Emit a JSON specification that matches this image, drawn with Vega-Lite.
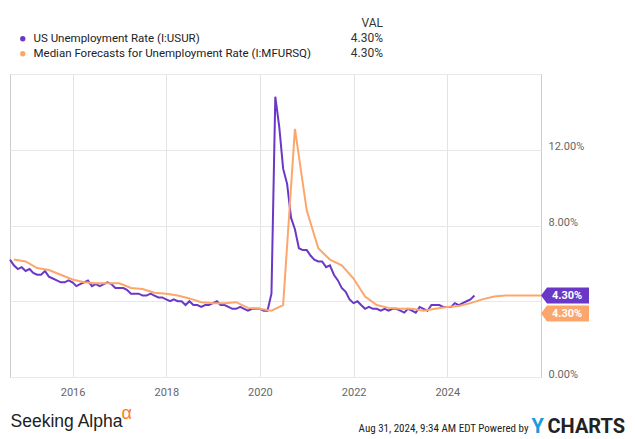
{
  "$schema": "https://vega.github.io/schema/vega-lite/v6.json",
  "width": 531,
  "height": 303,
  "autosize": {"type": "none"},
  "padding": {"left": 10, "top": 74, "right": 94, "bottom": 62},
  "background": "white",
  "config": {
    "font": "Roboto",
    "view": {"stroke": "#cccccc", "strokeWidth": 1}
  },
  "title": {
    "text": ["VAL", "4.30%", "4.30%"],
    "anchor": "start",
    "align": "right",
    "dx": 377,
    "dy": 27,
    "fontSize": 12,
    "fontWeight": "normal",
    "color": "#333333",
    "lineHeight": 15,
    "baseline": "top",
    "offset": 0
  },
  "datasets": {
    "usur": [
      {"date": "2014-08-31", "value": 6.2},
      {"date": "2014-09-30", "value": 5.9},
      {"date": "2014-10-31", "value": 5.7},
      {"date": "2014-11-30", "value": 5.8},
      {"date": "2014-12-31", "value": 5.6},
      {"date": "2015-01-31", "value": 5.7},
      {"date": "2015-02-28", "value": 5.5},
      {"date": "2015-03-31", "value": 5.4},
      {"date": "2015-04-30", "value": 5.4},
      {"date": "2015-05-31", "value": 5.6},
      {"date": "2015-06-30", "value": 5.3},
      {"date": "2015-07-31", "value": 5.2},
      {"date": "2015-08-31", "value": 5.1},
      {"date": "2015-09-30", "value": 5.0},
      {"date": "2015-10-31", "value": 5.0},
      {"date": "2015-11-30", "value": 5.1},
      {"date": "2015-12-31", "value": 5.0},
      {"date": "2016-01-31", "value": 4.8},
      {"date": "2016-02-29", "value": 4.9},
      {"date": "2016-03-31", "value": 5.0},
      {"date": "2016-04-30", "value": 5.1},
      {"date": "2016-05-31", "value": 4.8},
      {"date": "2016-06-30", "value": 4.9},
      {"date": "2016-07-31", "value": 4.8},
      {"date": "2016-08-31", "value": 4.9},
      {"date": "2016-09-30", "value": 5.0},
      {"date": "2016-10-31", "value": 4.9},
      {"date": "2016-11-30", "value": 4.7},
      {"date": "2016-12-31", "value": 4.7},
      {"date": "2017-01-31", "value": 4.7},
      {"date": "2017-02-28", "value": 4.6},
      {"date": "2017-03-31", "value": 4.4},
      {"date": "2017-04-30", "value": 4.4},
      {"date": "2017-05-31", "value": 4.4},
      {"date": "2017-06-30", "value": 4.3},
      {"date": "2017-07-31", "value": 4.3},
      {"date": "2017-08-31", "value": 4.4},
      {"date": "2017-09-30", "value": 4.3},
      {"date": "2017-10-31", "value": 4.2},
      {"date": "2017-11-30", "value": 4.2},
      {"date": "2017-12-31", "value": 4.1},
      {"date": "2018-01-31", "value": 4.0},
      {"date": "2018-02-28", "value": 4.1},
      {"date": "2018-03-31", "value": 4.0},
      {"date": "2018-04-30", "value": 4.0},
      {"date": "2018-05-31", "value": 3.8},
      {"date": "2018-06-30", "value": 4.0},
      {"date": "2018-07-31", "value": 3.8},
      {"date": "2018-08-31", "value": 3.8},
      {"date": "2018-09-30", "value": 3.7},
      {"date": "2018-10-31", "value": 3.8},
      {"date": "2018-11-30", "value": 3.8},
      {"date": "2018-12-31", "value": 3.9},
      {"date": "2019-01-31", "value": 4.0},
      {"date": "2019-02-28", "value": 3.8},
      {"date": "2019-03-31", "value": 3.8},
      {"date": "2019-04-30", "value": 3.7},
      {"date": "2019-05-31", "value": 3.6},
      {"date": "2019-06-30", "value": 3.6},
      {"date": "2019-07-31", "value": 3.7},
      {"date": "2019-08-31", "value": 3.6},
      {"date": "2019-09-30", "value": 3.5},
      {"date": "2019-10-31", "value": 3.6},
      {"date": "2019-11-30", "value": 3.6},
      {"date": "2019-12-31", "value": 3.6},
      {"date": "2020-01-31", "value": 3.5},
      {"date": "2020-02-29", "value": 3.5},
      {"date": "2020-03-31", "value": 4.4},
      {"date": "2020-04-30", "value": 14.8},
      {"date": "2020-05-31", "value": 13.2},
      {"date": "2020-06-30", "value": 11.0},
      {"date": "2020-07-31", "value": 10.2},
      {"date": "2020-08-31", "value": 8.4},
      {"date": "2020-09-30", "value": 7.8},
      {"date": "2020-10-31", "value": 6.8},
      {"date": "2020-11-30", "value": 6.7},
      {"date": "2020-12-31", "value": 6.7},
      {"date": "2021-01-31", "value": 6.4},
      {"date": "2021-02-28", "value": 6.2},
      {"date": "2021-03-31", "value": 6.1},
      {"date": "2021-04-30", "value": 6.1},
      {"date": "2021-05-31", "value": 5.8},
      {"date": "2021-06-30", "value": 5.9},
      {"date": "2021-07-31", "value": 5.4},
      {"date": "2021-08-31", "value": 5.1},
      {"date": "2021-09-30", "value": 4.7},
      {"date": "2021-10-31", "value": 4.5},
      {"date": "2021-11-30", "value": 4.1},
      {"date": "2021-12-31", "value": 3.9},
      {"date": "2022-01-31", "value": 4.0},
      {"date": "2022-02-28", "value": 3.8},
      {"date": "2022-03-31", "value": 3.6},
      {"date": "2022-04-30", "value": 3.7},
      {"date": "2022-05-31", "value": 3.6},
      {"date": "2022-06-30", "value": 3.6},
      {"date": "2022-07-31", "value": 3.5},
      {"date": "2022-08-31", "value": 3.6},
      {"date": "2022-09-30", "value": 3.5},
      {"date": "2022-10-31", "value": 3.6},
      {"date": "2022-11-30", "value": 3.6},
      {"date": "2022-12-31", "value": 3.5},
      {"date": "2023-01-31", "value": 3.4},
      {"date": "2023-02-28", "value": 3.6},
      {"date": "2023-03-31", "value": 3.5},
      {"date": "2023-04-30", "value": 3.4},
      {"date": "2023-05-31", "value": 3.7},
      {"date": "2023-06-30", "value": 3.6},
      {"date": "2023-07-31", "value": 3.5},
      {"date": "2023-08-31", "value": 3.8},
      {"date": "2023-09-30", "value": 3.8},
      {"date": "2023-10-31", "value": 3.8},
      {"date": "2023-11-30", "value": 3.7},
      {"date": "2023-12-31", "value": 3.7},
      {"date": "2024-01-31", "value": 3.7},
      {"date": "2024-02-29", "value": 3.9},
      {"date": "2024-03-31", "value": 3.8},
      {"date": "2024-04-30", "value": 3.9},
      {"date": "2024-05-31", "value": 4.0},
      {"date": "2024-06-30", "value": 4.1},
      {"date": "2024-07-31", "value": 4.3}
    ],
    "mfursq": [
      {"date": "2014-09-30", "value": 6.2},
      {"date": "2014-12-31", "value": 6.1},
      {"date": "2015-03-31", "value": 5.75},
      {"date": "2015-06-30", "value": 5.65},
      {"date": "2015-09-30", "value": 5.4},
      {"date": "2015-12-31", "value": 5.15},
      {"date": "2016-03-31", "value": 5.0},
      {"date": "2016-06-30", "value": 4.95},
      {"date": "2016-09-30", "value": 4.95},
      {"date": "2016-12-31", "value": 4.95},
      {"date": "2017-03-31", "value": 4.7},
      {"date": "2017-06-30", "value": 4.65},
      {"date": "2017-09-30", "value": 4.45},
      {"date": "2017-12-31", "value": 4.4},
      {"date": "2018-03-31", "value": 4.3},
      {"date": "2018-06-30", "value": 4.15},
      {"date": "2018-09-30", "value": 3.95},
      {"date": "2018-12-31", "value": 3.9},
      {"date": "2019-03-31", "value": 3.9},
      {"date": "2019-06-30", "value": 3.95},
      {"date": "2019-09-30", "value": 3.65},
      {"date": "2019-12-31", "value": 3.6},
      {"date": "2020-03-31", "value": 3.5},
      {"date": "2020-06-30", "value": 3.8},
      {"date": "2020-09-30", "value": 13.1},
      {"date": "2020-12-31", "value": 8.8},
      {"date": "2021-03-31", "value": 6.8},
      {"date": "2021-06-30", "value": 6.2},
      {"date": "2021-09-30", "value": 5.9},
      {"date": "2021-12-31", "value": 5.2},
      {"date": "2022-03-31", "value": 4.25},
      {"date": "2022-06-30", "value": 3.8},
      {"date": "2022-09-30", "value": 3.65},
      {"date": "2022-12-31", "value": 3.6},
      {"date": "2023-03-31", "value": 3.6},
      {"date": "2023-06-30", "value": 3.5},
      {"date": "2023-09-30", "value": 3.6},
      {"date": "2023-12-31", "value": 3.7},
      {"date": "2024-03-31", "value": 3.75},
      {"date": "2024-06-30", "value": 3.9},
      {"date": "2024-09-30", "value": 4.1},
      {"date": "2024-12-31", "value": 4.25},
      {"date": "2025-03-31", "value": 4.3},
      {"date": "2025-06-30", "value": 4.3},
      {"date": "2025-09-30", "value": 4.3},
      {"date": "2025-12-31", "value": 4.3}
    ],
    "tags": [
      {"series": "US Unemployment Rate (I:USUR)", "date": "2026-01-01", "value": 4.3, "label": "4.30%"},
      {"series": "Median Forecasts for Unemployment Rate (I:MFURSQ)", "date": "2026-01-01", "value": 4.3, "label": "4.30%"}
    ]
  },
  "resolve": {"scale": {"x": "shared"}, "axis": {"x": "independent"}},
  "layer": [
    {
      "data": {"name": "usur"},
      "mark": {"type": "line", "strokeWidth": 2, "color": "#6a38c6"},
      "encoding": {
        "x": {
          "field": "date", "type": "temporal",
          "scale": {"type": "utc", "domain": [{"year": 2014, "month": 8, "date": 31, "utc": true}, {"year": 2026, "month": 1, "date": 1, "utc": true}]},
          "axis": {
            "orient": "bottom",
            "values": [{"year": 2016, "utc": true}, {"year": 2018, "utc": true}, {"year": 2020, "utc": true}, {"year": 2022, "utc": true}, {"year": 2024, "utc": true}],
            "format": "%Y",
            "grid": true, "gridColor": "#e3e3e3", "gridWidth": 1,
            "ticks": false, "domain": false,
            "labelColor": "#666666", "labelFontSize": 11, "labelPadding": 9,
            "title": "Seeking Alpha",
            "titleFont": "Liberation Sans", "titleFontSize": 17.5, "titleFontWeight": "normal", "titleColor": "#222222",
            "titleAlign": "left", "titleAnchor": "start", "titleBaseline": "alphabetic", "titleX": 0, "titleY": 49
          }
        },
        "y": {
          "field": "value", "type": "quantitative",
          "scale": {"domain": [0, 16], "nice": false},
          "axis": {
            "orient": "right",
            "values": [0, 4, 8, 12, 16],
            "labelExpr": "datum.value == 0 || datum.value == 8 || datum.value == 12 ? format(datum.value, '.2f') + '%' : ''",
            "title": null,
            "grid": true, "gridColor": "#e8e8e8",
            "ticks": false, "domain": false,
            "labelColor": "#666666", "labelFontSize": 11, "labelPadding": 7,
            "labelBaseline": "alphabetic", "labelAlign": "left"
          }
        }
      }
    },
    {
      "data": {"name": "mfursq"},
      "mark": {"type": "line", "strokeWidth": 2, "color": "#fca66c"},
      "encoding": {
        "x": {
          "field": "date", "type": "temporal",
          "axis": {
            "orient": "bottom", "labels": false, "ticks": false, "domain": false, "grid": false,
            "title": "α",
            "titleFont": "Liberation Sans", "titleFontSize": 18, "titleFontWeight": "normal", "titleColor": "#f5821f",
            "titleAlign": "left", "titleAnchor": "start", "titleBaseline": "alphabetic", "titleX": 111, "titleY": 41
          }
        },
        "y": {"field": "value", "type": "quantitative"}
      }
    },
    {
      "data": {"name": "tags"},
      "transform": [{"filter": "datum.series == 'US Unemployment Rate (I:USUR)'"}],
      "mark": {"type": "point", "filled": true, "opacity": 1, "size": 4, "strokeWidth": 0, "shape": "M0,0L6,-8L48,-8L48,8L6,8Z"},
      "encoding": {
        "x": {
          "field": "date", "type": "temporal",
          "axis": {
            "orient": "bottom", "labels": false, "ticks": false, "domain": false, "grid": false,
            "title": "Aug 31, 2024, 9:34 AM EDT Powered by",
            "titleFont": "Roboto Condensed, Liberation Sans Narrow, Roboto", "titleFontSize": 11, "titleFontWeight": "normal", "titleColor": "#222222",
            "titleAlign": "right", "titleAnchor": "start", "titleBaseline": "alphabetic", "titleX": 518, "titleY": 54
          }
        },
        "y": {"field": "value", "type": "quantitative"},
        "fill": {
          "field": "series", "type": "nominal",
          "scale": {"domain": ["US Unemployment Rate (I:USUR)", "Median Forecasts for Unemployment Rate (I:MFURSQ)"], "range": ["#6a38c6", "#fca66c"]},
          "legend": {
            "orient": "none", "legendX": 7, "legendY": -41, "title": null, "direction": "vertical",
            "symbolType": "circle", "symbolSize": 28, "symbolOpacity": 1, "symbolStrokeWidth": 0,
            "labelFont": "Roboto", "labelFontSize": 11.5, "labelColor": "#222222", "labelOffset": 5, "labelLimit": 500,
            "rowPadding": 2
          }
        }
      }
    },
    {
      "data": {"name": "tags"},
      "transform": [{"filter": "datum.series == 'Median Forecasts for Unemployment Rate (I:MFURSQ)'"}],
      "mark": {"type": "point", "filled": true, "opacity": 1, "size": 4, "strokeWidth": 0, "yOffset": 18, "shape": "M0,0L6,-8L48,-8L48,8L6,8Z"},
      "encoding": {
        "x": {
          "field": "date", "type": "temporal",
          "axis": {
            "orient": "bottom", "labels": false, "ticks": false, "domain": false, "grid": false,
            "title": "Y",
            "titleFont": "Roboto", "titleFontSize": 20, "titleFontWeight": "bold", "titleColor": "#1a9bdc",
            "titleAlign": "left", "titleAnchor": "start", "titleBaseline": "alphabetic", "titleX": 521, "titleY": 55
          }
        },
        "y": {"field": "value", "type": "quantitative"},
        "fill": {"field": "series", "type": "nominal"}
      }
    },
    {
      "data": {"name": "tags"},
      "transform": [{"filter": "datum.series == 'US Unemployment Rate (I:USUR)'"}],
      "mark": {"type": "text", "dx": 26, "align": "center", "baseline": "middle", "fontWeight": "bold", "fontSize": 11, "color": "white"},
      "encoding": {
        "x": {
          "field": "date", "type": "temporal",
          "axis": {
            "orient": "bottom", "labels": false, "ticks": false, "domain": false, "grid": false,
            "title": "CHARTS",
            "titleFont": "Roboto", "titleFontSize": 20, "titleFontWeight": "bold", "titleColor": "#222222",
            "titleAlign": "left", "titleAnchor": "start", "titleBaseline": "alphabetic", "titleX": 537, "titleY": 55
          }
        },
        "y": {"field": "value", "type": "quantitative"},
        "text": {"field": "label"}
      }
    },
    {
      "data": {"name": "tags"},
      "transform": [{"filter": "datum.series == 'Median Forecasts for Unemployment Rate (I:MFURSQ)'"}],
      "mark": {"type": "text", "dx": 26, "dy": 18, "align": "center", "baseline": "middle", "fontWeight": "bold", "fontSize": 11, "color": "white"},
      "encoding": {
        "x": {"field": "date", "type": "temporal", "axis": null},
        "y": {"field": "value", "type": "quantitative"},
        "text": {"field": "label"}
      }
    }
  ]
}
